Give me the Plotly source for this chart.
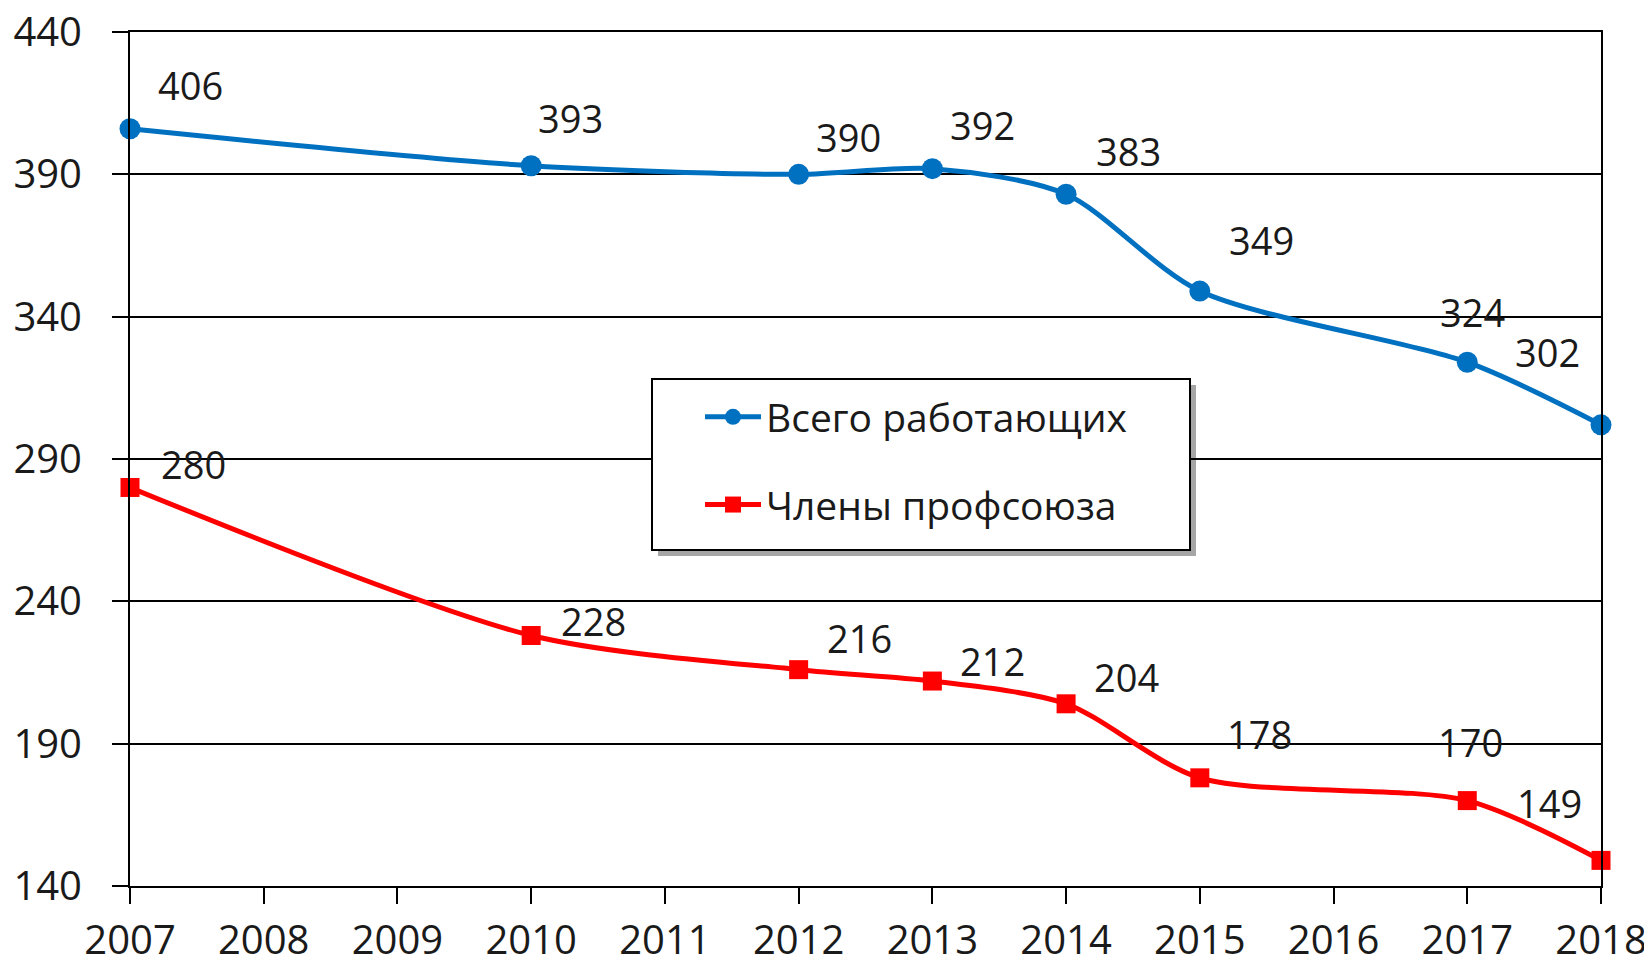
import plotly.graph_objects as go

years = [2007, 2010, 2012, 2013, 2014, 2015, 2017, 2018]
total_workers = [406, 393, 390, 392, 383, 349, 324, 302]
union_members = [280, 228, 216, 212, 204, 178, 170, 149]
tick_years = list(range(2007, 2019))
y_ticks = [140, 190, 240, 290, 340, 390, 440]

name_total = "Всего работающих"
name_union = "Члены профсоюза"

# label offsets in pixels (styling)
off_total = [(60, 44), (39, 48), (50, 37), (50, 44), (62, 43), (62, 51), (5, 50), (-54, 73)]
off_union = [(63, 23), (62, 14), (61, 32), (60, 20), (60, 27), (60, 44), (3, 59), (-52, 57)]

BLUE = "#0070C0"
RED = "#FF0000"
FONT = "Open Sans"
TXT = "#1a1a1a"
FS = 38
TICK_FS = 40

# page has an 8px body margin; the figure starts at (8, 8)
OFF = 8
PX0, PX1, PY0, PY1 = 130, 1601, 32, 886  # plot area in page pixels
PW, PH = PX1 - PX0, PY1 - PY0
FW, FH = 1652 - OFF, 964 - OFF

fig = go.Figure()
fig.add_trace(go.Scatter(
    x=years, y=total_workers, name=name_total, mode="lines+markers",
    line=dict(color=BLUE, width=5, shape="spline", smoothing=0.8),
    marker=dict(symbol="circle", size=21, color=BLUE),
    cliponaxis=False, legendgroup="a"))
fig.add_trace(go.Scatter(
    x=years, y=union_members, name=name_union, mode="lines+markers",
    line=dict(color=RED, width=5, shape="spline", smoothing=0.8),
    marker=dict(symbol="square", size=19, color=RED),
    cliponaxis=False, legendgroup="b"))

ann = []
for xs, ys, offs in ((years, total_workers, off_total), (years, union_members, off_union)):
    for x, y, (dx, dy) in zip(xs, ys, offs):
        ann.append(dict(x=x, y=y, text=str(y), showarrow=False, xshift=dx, yshift=dy,
                        font=dict(family=FONT, size=FS, color=TXT)))

# legend box with shadow (page pixels -> paper)
L, R = (652 - PX0) / PW, (1190 - PX0) / PW
T, B = (PY1 - 379) / PH, (PY1 - 550) / PH
shapes = [
    dict(type="rect", xref="paper", yref="paper", x0=L + 6 / PW, x1=R + 6 / PW,
         y0=B - 6 / PH, y1=T - 6 / PH, fillcolor="rgba(0,0,0,0.35)", line=dict(width=0), layer="above"),
    dict(type="rect", xref="paper", yref="paper", x0=L, x1=R, y0=B, y1=T,
         fillcolor="white", line=dict(color="black", width=2), layer="above"),
]

fig.update_layout(
    width=FW, height=FH,
    margin=dict(l=PX0 - OFF, r=FW - (PX1 - OFF), t=PY0 - OFF, b=FH - (PY1 - OFF), autoexpand=False),
    paper_bgcolor="white", plot_bgcolor="white",
    font=dict(family=FONT, size=FS, color=TXT),
    showlegend=True,
    legend=dict(x=(700 - PX0) / PW, y=(PY1 - 385) / PH, xanchor="left", yanchor="top",
                bgcolor="rgba(0,0,0,0)", borderwidth=0, tracegroupgap=34,
                font=dict(family=FONT, size=39, color=TXT), itemwidth=56),
    xaxis=dict(range=[2007, 2018], tickmode="array", tickvals=tick_years,
               ticktext=[str(t) for t in tick_years], automargin=False,
               showgrid=False, showline=True, linecolor="black", linewidth=2, mirror=True,
               ticks="outside", ticklen=16, tickwidth=2, tickcolor="black",
               ticklabelstandoff=2, ticklabeloverflow="allow", zeroline=False,
               tickfont=dict(family=FONT, size=TICK_FS, color=TXT)),
    yaxis=dict(range=[140, 440], tickmode="array", tickvals=y_ticks, automargin=False,
               showgrid=True, gridcolor="black", gridwidth=2,
               showline=True, linecolor="black", linewidth=2, mirror=True,
               ticks="outside", ticklen=16, tickwidth=2, tickcolor="black",
               ticklabelstandoff=22, ticklabeloverflow="allow", zeroline=False,
               tickfont=dict(family=FONT, size=TICK_FS, color=TXT)),
    annotations=ann, shapes=shapes,
)

fig.write_html("out.html")
